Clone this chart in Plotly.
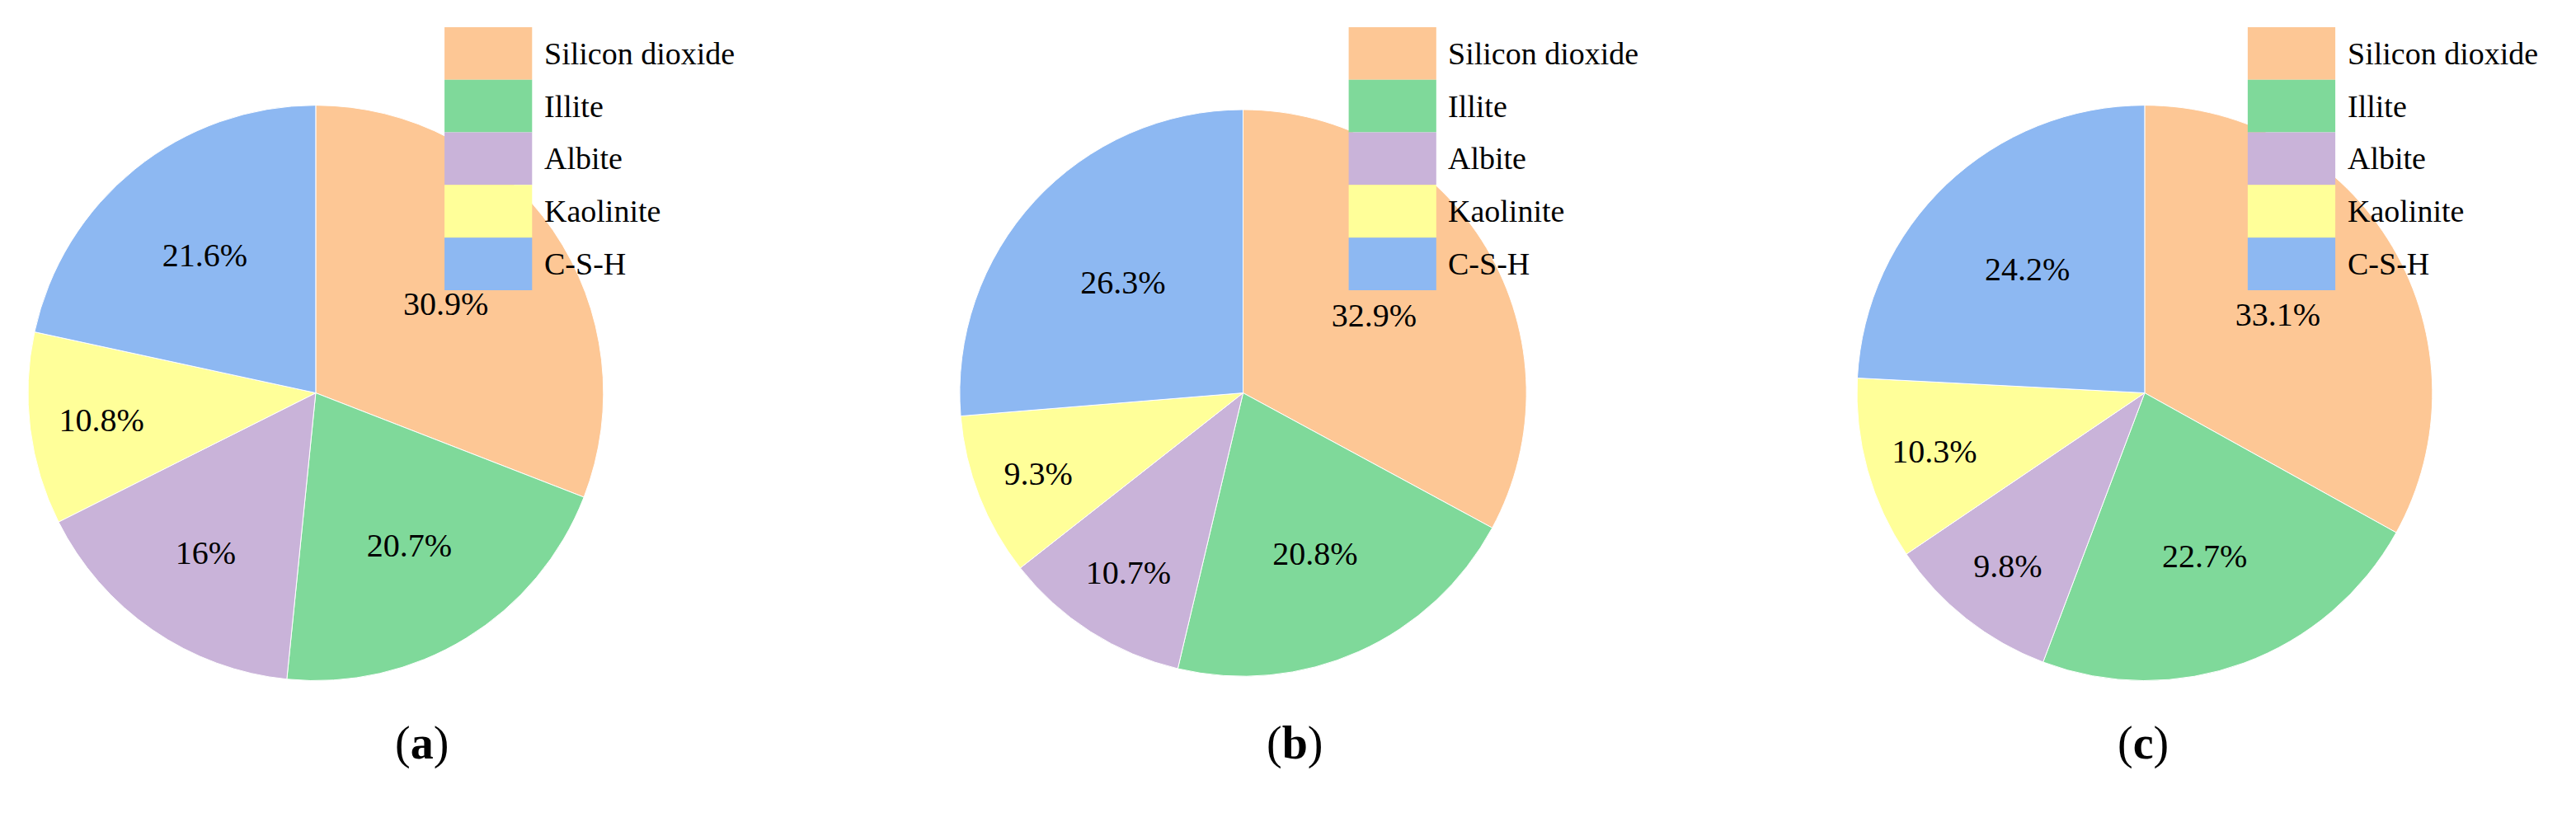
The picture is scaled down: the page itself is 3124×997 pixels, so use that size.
import plotly.graph_objects as go

categories = ["Silicon dioxide", "Illite", "Albite", "Kaolinite", "C-S-H"]
values_a = [30.9, 20.7, 16, 10.8, 21.6]
values_b = [32.9, 20.8, 10.7, 9.3, 26.3]
values_c = [33.1, 22.7, 9.8, 10.3, 24.2]
panel_labels = ["(<b>a</b>)", "(<b>b</b>)", "(<b>c</b>)"]
colors = ["#FDC795", "#7FD99A", "#C9B3D9", "#FFFF99", "#8DB8F2"]

font = "Liberation Serif"
fig = go.Figure()
domains = [[0.005, 0.235], [0.37, 0.59], [0.715, 0.945]]
for vals, dom in zip([values_a, values_b, values_c], domains):
    fig.add_trace(go.Pie(
        labels=categories, values=vals, sort=False, direction="clockwise", rotation=0,
        marker=dict(colors=colors, line=dict(color="white", width=1)),
        texttemplate="%{value}%", textinfo="value", textposition="inside",
        insidetextorientation="horizontal",
        textfont=dict(family=font, size=40, color="black"),
        domain=dict(x=dom, y=[0.18, 0.88]), showlegend=False,
    ))

# manual legends
row_h = 0.064
sw_w = 0.034
for lx in [0.170, 0.521, 0.870]:
    for i, (cat, col) in enumerate(zip(categories, colors)):
        top = 0.975 - i * row_h
        fig.add_shape(type="rect", xref="paper", yref="paper", x0=lx, x1=lx + sw_w,
                      y0=top - row_h, y1=top, fillcolor=col, line=dict(width=0))
        fig.add_annotation(text=cat, x=lx + sw_w + 0.004, y=top - row_h / 2, xref="paper",
                           yref="paper", xanchor="left", yanchor="middle", showarrow=False,
                           font=dict(family=font, size=38, color="black"))

fig.update_layout(
    width=3124, height=997, paper_bgcolor="white", plot_bgcolor="white",
    margin=dict(l=0, r=0, t=0, b=0),
)
for lab, x in zip(panel_labels, [0.15, 0.50, 0.84]):
    fig.add_annotation(text=lab, x=x, y=0.07, xref="paper", yref="paper", showarrow=False,
                       font=dict(family=font, size=56, color="black"))
fig.write_html("out.html")
